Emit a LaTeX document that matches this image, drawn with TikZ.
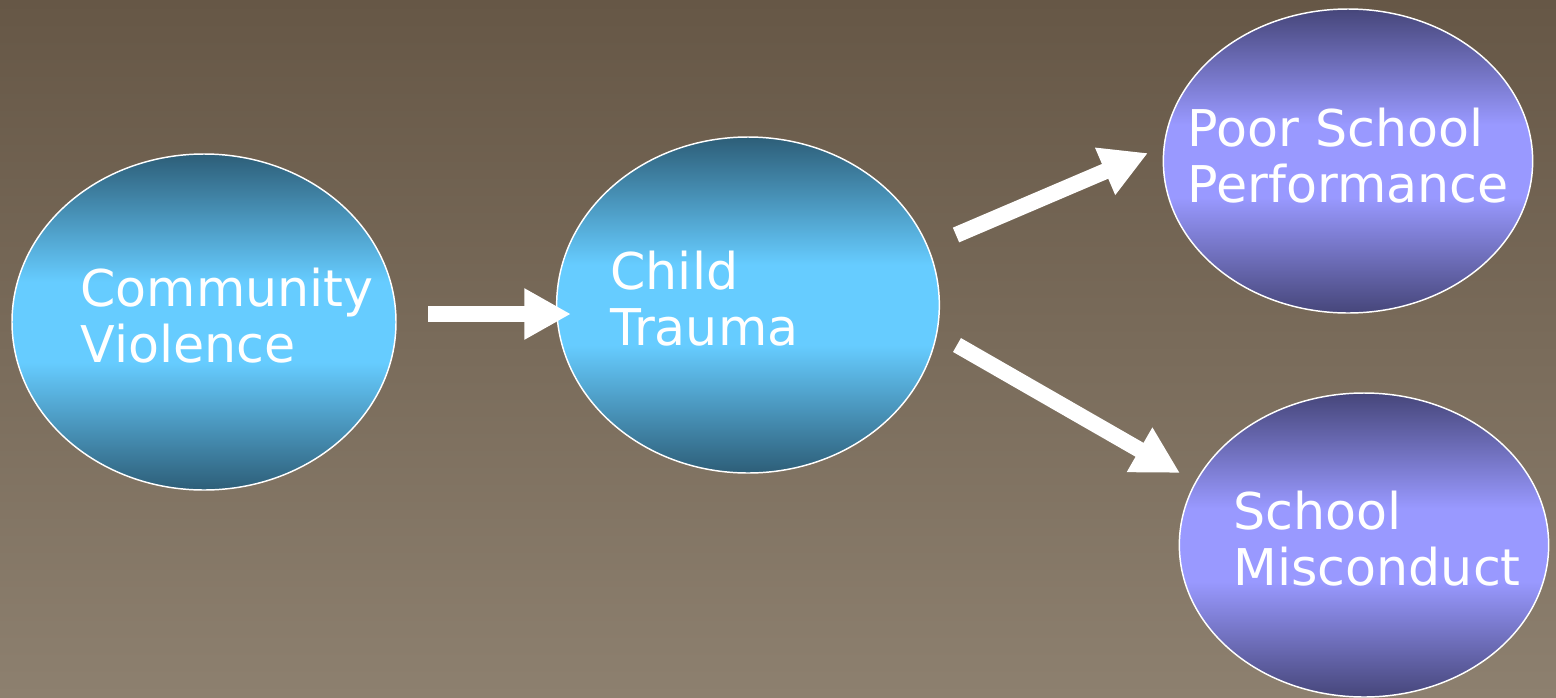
\documentclass[tikz,border=0pt]{standalone}
\usepackage{fontspec}
\setmainfont{DejaVu Sans}
\usetikzlibrary{shapes.geometric,arrows.meta}

\definecolor{bgtop}{RGB}{102,87,70}
\definecolor{bgbottom}{RGB}{141,128,111}
\definecolor{tealdark}{RGB}{45,94,120}
\definecolor{skyblue}{RGB}{102,204,255}
\definecolor{violetdark}{RGB}{70,70,122}
\definecolor{lavender}{RGB}{153,153,255}

\pgfdeclareverticalshading{bluefade}{100bp}{color(0bp)=(tealdark); color(25bp)=(tealdark);
  color(44bp)=(skyblue); color(56bp)=(skyblue); color(75bp)=(tealdark); color(100bp)=(tealdark)}
\pgfdeclareverticalshading{violetfade}{100bp}{color(0bp)=(violetdark); color(25bp)=(violetdark);
  color(44bp)=(lavender); color(56bp)=(lavender); color(75bp)=(violetdark); color(100bp)=(violetdark)}

\tikzset{every picture/.style={line width=0.75pt}}
\tikzset{
  bluebubble/.style={ellipse, draw=white, line width=1.1pt, inner sep=0pt, shading=bluefade},
  violetbubble/.style={ellipse, draw=white, line width=1.1pt, inner sep=0pt, shading=violetfade},
  bubbletext/.style={text=white, font=\fontsize{38}{42}\selectfont,
    align=left, inner sep=0pt, anchor=base west},
  fatarrow/.style={draw=white, line width=12pt, -{Triangle[length=35pt,width=36pt]}}
}

\begin{document}
\begin{tikzpicture}[x=0.75pt,y=0.75pt,yscale=-1,xscale=1]
\useasboundingbox (0,0) rectangle (1556,697);

%Background
\shade [top color=bgtop, bottom color=bgbottom] (0,0) rectangle (1556,697);

%Bubbles
\node [bluebubble, minimum width=288pt, minimum height=252pt] (violence) at (204,322) {};
\node [bluebubble, minimum width=287pt, minimum height=252pt] (trauma) at (748,305) {};
\node [violetbubble, minimum width=277pt, minimum height=228pt] (performance) at (1348,161) {};
\node [violetbubble, minimum width=277pt, minimum height=228pt] (misconduct) at (1364,545) {};

%Labels (anchored on the baseline of the second line)
\node [bubbletext] (violencetext) at (80,362) {Community\\Violence};
\node [bubbletext] (traumatext) at (610,345) {Child\\Trauma};
\node [bubbletext] (performancetext) at (1187,202) {Poor School\\Performance};
\node [bubbletext] (misconducttext) at (1233,585) {School\\Misconduct};

%Arrow ends
\coordinate (violenceout) at (428,314);
\coordinate (traumain) at (571,314);
\coordinate (traumaup) at (956,235);
\coordinate (performancein) at (1148,153);
\coordinate (traumadown) at (957,345);
\coordinate (misconductin) at (1180,473);

%Arrows
\draw [fatarrow] (violenceout) -- (traumain);
\draw [fatarrow] (traumaup) -- (performancein);
\draw [fatarrow] (traumadown) -- (misconductin);

\end{tikzpicture}
\end{document}
